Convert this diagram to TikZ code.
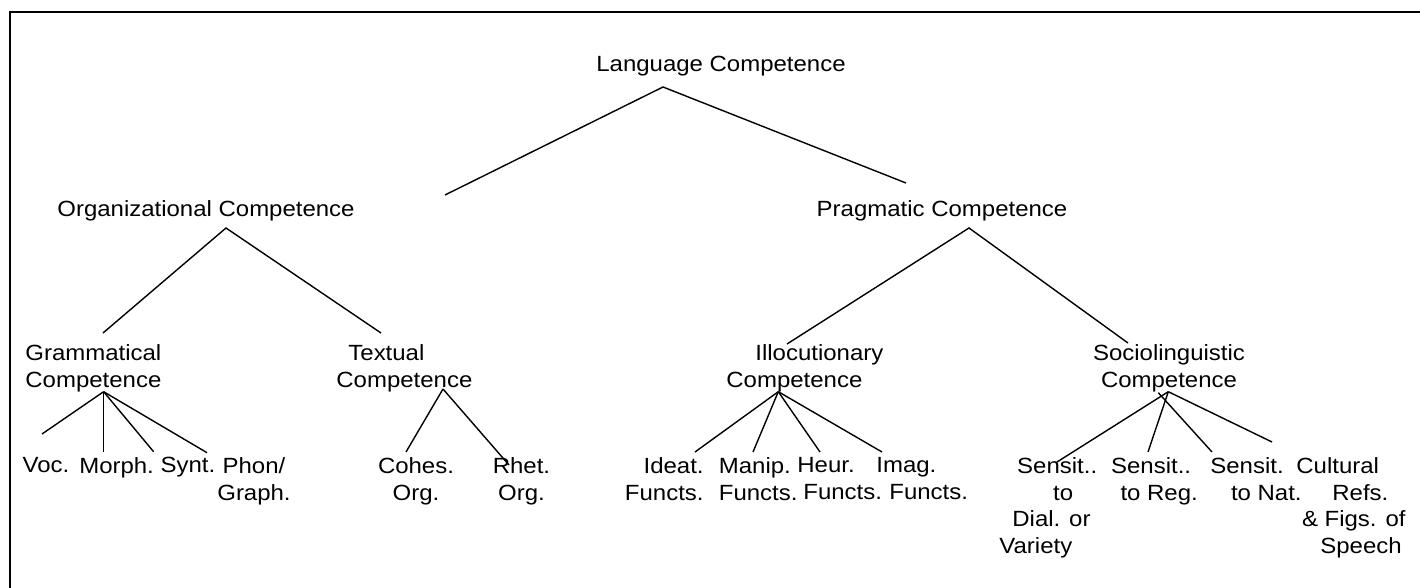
\documentclass[tikz,border=0pt]{standalone}
\usepackage{fontspec}
\setmainfont{Liberation Sans}[FakeStretch=1.09]
\usetikzlibrary{positioning}
\tikzset{%
  lbl/.style={inner sep=0pt,font=\fontsize{11}{13.4}\selectfont},
  lblc/.style={lbl,align=center,anchor=north},
  lbll/.style={lbl,align=left,anchor=north west},
  lblr/.style={lbl,align=right,anchor=north east},
  forkline/.style={line width=0.7pt},
  framebox/.style={line width=1pt}
}

\begin{document}
\begin{tikzpicture}[x=0.5pt,y=-0.5pt]
  \useasboundingbox (0,0) rectangle (1420,588);
  \draw[framebox] (10,588) -- (10,12) -- (1420,12);
  % top levels
  \node[lblc](lang) at (721,56){Language Competence};
  \node[lblc](org) at (206,200){Organizational Competence};
  \node[lblc](prag) at (942,200){Pragmatic Competence};
  \node[lbll](gram) at (25,344){Grammatical\\Competence};
  \node[lbll](textc) at (336,344){\hspace*{6pt}Textual\\Competence};
  \node[lbll](illoc) at (726,344){\hspace*{14.5pt}Illocutionary\\Competence};
  \node[lblc](socio) at (1169,344){Sociolinguistic\\Competence};
  % leaves
  \node[lblc](voc) at (46,457){Voc.};
  \node[lblc](morph) at (116.6,457){Morph.};
  \node[lblc](synt) at (188,457){Synt.};
  \node[lblc](phon) at (254,457){Phon/\\Graph.};
  \node[lblc](cohes) at (416,457){Cohes.\\Org.};
  \node[lblc](rhet) at (521.5,457){Rhet.\\Org.};
  \node[lblr](ideat) at (704,457){Ideat.\\Functs.};
  \node[lbll](manip) at (718.5,457){Manip.\\Functs.};
  \node[lbll](heur) at (797,457){Heur.\\\hspace*{3pt}Functs.};
  \node[lbll](imag) at (876,457){Imag.\\\hspace*{6.5pt}Functs.};
  \node[lbll](dial) at (999,457){\hspace*{8.9pt}Sensit..\\\hspace*{26.9pt}to\\\hspace*{6.5pt}Dial. or\\Variety};
  \node[lbll](reg) at (1110.7,457){Sensit..\\\hspace*{4.7pt}to Reg.};
  \node[lbll](nat) at (1210,457){Sensit.\\\hspace*{10.3pt}to Nat.};
  \node[lbll](cult) at (1296,457){Cultural\\\hspace*{18pt}Refs.\\\hspace*{2.8pt}\& Figs. of\\\hspace*{12pt}Speech};
  % forks
  \coordinate (langfork) at (663,87);
  \coordinate (langL) at (445,195);
  \coordinate (langR) at (906,183);
  \draw[forkline] (langL) -- (langfork) -- (langR);
  \coordinate (orgfork) at (226,228);
  \coordinate (orgL) at (103,333);
  \coordinate (orgR) at (381,333);
  \draw[forkline] (orgL) -- (orgfork) -- (orgR);
  \coordinate (pragfork) at (969,228);
  \coordinate (pragL) at (787,344);
  \coordinate (pragR) at (1128,343);
  \draw[forkline] (pragL) -- (pragfork) -- (pragR);
  \coordinate (gramfork) at (103.6,391.7);
  \foreach \ex/\ey in {42/434,103.6/451.7,153.6/451.7,207/452.7}
    \draw[forkline] (gramfork) -- (\ex,\ey);
  \coordinate (textfork) at (443,389);
  \foreach \ex/\ey in {406/452,509/465}
    \draw[forkline] (textfork) -- (\ex,\ey);
  \coordinate (illocfork) at (778.3,391.7);
  \foreach \ex/\ey in {695/452,753/452,820/452,882/452}
    \draw[forkline] (illocfork) -- (\ex,\ey);
  \coordinate (sociofork) at (1168.3,391.7);
  \foreach \ex/\ey in {1057/462,1148/452,1272/442}
    \draw[forkline] (sociofork) -- (\ex,\ey);
  \coordinate (natfork) at (1158.3,392.7);
  \coordinate (natend) at (1212,452);
  \draw[forkline] (natfork) -- (natend);
\end{tikzpicture}
\end{document}
